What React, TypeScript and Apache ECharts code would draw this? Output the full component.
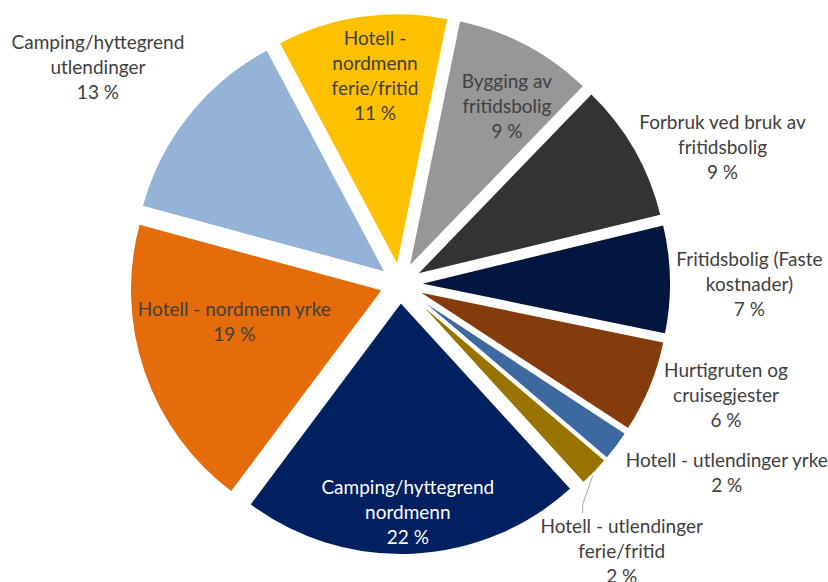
import React, { useEffect, useRef } from 'react';
import * as echarts from 'echarts';

const categories = [
  'Hotell - nordmenn ferie/fritid',
  'Bygging av fritidsbolig',
  'Forbruk ved bruk av fritidsbolig',
  'Fritidsbolig (Faste kostnader)',
  'Hurtigruten og cruisegjester',
  'Hotell - utlendinger yrke',
  'Hotell - utlendinger ferie/fritid',
  'Camping/hyttegrend nordmenn',
  'Hotell - nordmenn yrke',
  'Camping/hyttegrend utlendinger',
];
const labelTexts = [
  'Hotell -\nnordmenn\nferie/fritid',
  'Bygging av\nfritidsbolig',
  'Forbruk ved bruk av\nfritidsbolig',
  'Fritidsbolig (Faste\nkostnader)',
  'Hurtigruten og\ncruisegjester',
  'Hotell - utlendinger yrke',
  'Hotell - utlendinger\nferie/fritid',
  'Camping/hyttegrend\nnordmenn',
  'Hotell - nordmenn yrke',
  'Camping/hyttegrend\nutlendinger',
];
const values = [11, 9, 9, 7, 6, 2, 2, 22, 19, 13];
const colors = [
  '#FFC000', '#979797', '#333333', '#02163F', '#843C0C',
  '#3B69A0', '#997300', '#002060', '#E46C0A', '#95B3D7',
];
const labelColors = [
  '#404040', '#404040', '#404040', '#404040', '#404040',
  '#404040', '#404040', '#FFFFFF', '#404040', '#404040',
];
// label placement relative to each exploded slice: radius as share of pie radius, angle shift from slice bisector (deg)
const labelRadius = [0.76, 0.75, 1.315, 1.31, 1.29, 1.42, 1.3, 0.83, 0.6, 1.4];
const labelAngleShift = [1.5, 3.5, 7.1, 0.9, -3.8, -7.2, 6.6, 0.9, 7.3, -3.0];
const showLeader = [false, false, false, false, false, false, true, false, false, false];

const CX = 400;
const CY = 284;
const R = 253;
const EXPLODE = 18;
const START_CW = -28; // degrees clockwise from 12 o'clock
const LINE_H = 25;
const LEADER_END_DX = -39;

export default function App() {
  const ref = useRef<HTMLDivElement>(null);
  useEffect(() => {
    if (!ref.current) return;
    const chart = echarts.init(ref.current, undefined, { renderer: 'svg' });
    const total = values.reduce((a, b) => a + b, 0);
    const mids: number[] = [];
    let acc = 0;
    values.forEach((v) => {
      mids.push(START_CW + (360 * (acc + v / 2)) / total);
      acc += v;
    });
    const font = 'Lato, "Noto Sans", sans-serif';
    // one pie series per slice, each shifted outward along its bisector (exploded pie)
    const series = categories.map((_, i) => {
      const t = (mids[i] * Math.PI) / 180;
      const sx = CX + EXPLODE * Math.sin(t);
      const sy = CY - EXPLODE * Math.cos(t);
      return {
        type: 'pie',
        name: categories[i],
        center: [sx, sy],
        radius: [0, R],
        startAngle: 90 - START_CW,
        clockwise: true,
        silent: true,
        avoidLabelOverlap: false,
        emphasis: { disabled: true },
        label: {
          fontFamily: font,
          fontSize: 19,
          lineHeight: LINE_H,
          align: 'center',
          formatter: (p: any) => `${labelTexts[p.dataIndex]}\n${Math.round(p.percent)} %`,
        },
        labelLine: { show: false },
        labelLayout: (p: any) => {
          const j = p.dataIndex;
          const a = ((mids[j] + labelAngleShift[j]) * Math.PI) / 180;
          const r = labelRadius[j] * R;
          const x = sx + r * Math.sin(a);
          const y = sy - r * Math.cos(a);
          const out: any = { x, y, align: 'center', verticalAlign: 'middle' };
          if (showLeader[j]) {
            const tm = (mids[j] * Math.PI) / 180;
            const nLines = labelTexts[j].split('\n').length + 1;
            const top = y - (nLines * LINE_H) / 2;
            out.labelLinePoints = [
              [sx + (R - 1) * Math.sin(tm), sy - (R - 1) * Math.cos(tm)],
              [x + LEADER_END_DX, top - 9],
              [x + LEADER_END_DX, top],
            ];
          }
          return out;
        },
        data: categories.map((name, j) => ({
          name,
          value: values[j],
          itemStyle:
            j === i
              ? { color: colors[j], borderColor: '#ffffff', borderWidth: 2 }
              : { color: 'rgba(0,0,0,0)', borderWidth: 0 },
          label: {
            show: j === i,
            color: labelColors[j],
            position: showLeader[j] ? 'outside' : 'inside',
          },
          labelLine: {
            show: j === i && showLeader[j],
            length: 10,
            length2: 10,
            lineStyle: { color: '#A6A6A6', width: 1 },
          },
        })),
      };
    });
    chart.setOption({
      animation: false,
      backgroundColor: '#ffffff',
      series,
    });
    return () => chart.dispose();
  }, []);
  return (
    <div
      ref={ref}
      style={{ position: 'fixed', left: 0, top: 0, width: 828, height: 582, background: '#fff' }}
    />
  );
}
